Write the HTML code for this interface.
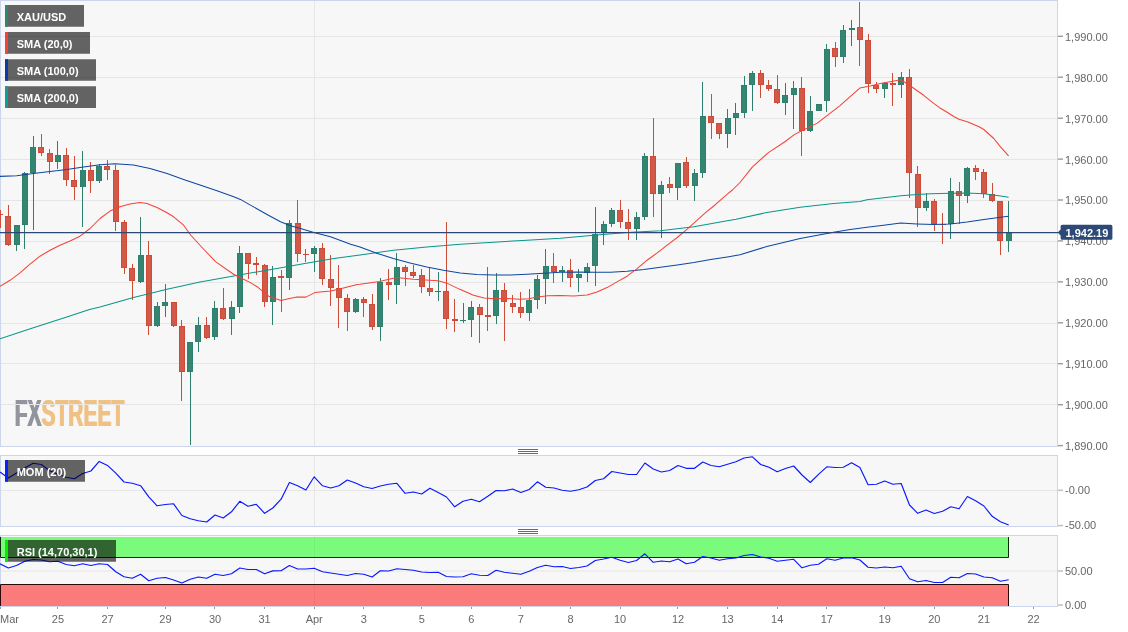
<!DOCTYPE html><html><head><meta charset="utf-8"><title>XAU/USD</title>
<style>html,body{margin:0;padding:0;background:#fff}svg{display:block}text{font-family:"Liberation Sans",Arial,sans-serif}</style></head><body>
<svg width="1128" height="632" viewBox="0 0 1128 632">
<rect width="1128" height="632" fill="#fff"/>
<rect x="0.5" y="0.5" width="1057" height="446" fill="#f7f7f7" stroke="#ccd6eb"/>
<rect x="0.5" y="455.5" width="1057" height="71" fill="#f7f7f7" stroke="#ccd6eb"/>
<rect x="0.5" y="535.5" width="1057" height="71" fill="#f7f7f7" stroke="#ccd6eb"/>
<defs><filter id="thick" x="-5%" y="-5%" width="110%" height="110%"><feOffset in="SourceGraphic" dx="1" result="b"/><feMerge><feMergeNode in="b"/><feMergeNode in="SourceGraphic"/></feMerge></filter></defs>
<text x="14.3" y="426.4" font-size="37" font-weight="bold" textLength="109.5" lengthAdjust="spacingAndGlyphs" filter="url(#thick)"><tspan fill="#92959e">FX</tspan><tspan fill="#f0c184">STREET</tspan></text>
<line x1="1" y1="36.5" x2="1057" y2="36.5" stroke="#e6e6e6"/>
<line x1="1" y1="77.5" x2="1057" y2="77.5" stroke="#e6e6e6"/>
<line x1="1" y1="118.5" x2="1057" y2="118.5" stroke="#e6e6e6"/>
<line x1="1" y1="159.5" x2="1057" y2="159.5" stroke="#e6e6e6"/>
<line x1="1" y1="200.5" x2="1057" y2="200.5" stroke="#e6e6e6"/>
<line x1="1" y1="241.5" x2="1057" y2="241.5" stroke="#e6e6e6"/>
<line x1="1" y1="282.5" x2="1057" y2="282.5" stroke="#e6e6e6"/>
<line x1="1" y1="323.5" x2="1057" y2="323.5" stroke="#e6e6e6"/>
<line x1="1" y1="363.5" x2="1057" y2="363.5" stroke="#e6e6e6"/>
<line x1="1" y1="404.5" x2="1057" y2="404.5" stroke="#e6e6e6"/>
<line x1="1058" y1="36.3" x2="1063" y2="36.3" stroke="#9a9a9a" stroke-width="1.4"/>
<text x="1065" y="41" font-size="11" fill="#666">1,990.00</text>
<line x1="1058" y1="77.2" x2="1063" y2="77.2" stroke="#9a9a9a" stroke-width="1.4"/>
<text x="1065" y="82" font-size="11" fill="#666">1,980.00</text>
<line x1="1058" y1="118.2" x2="1063" y2="118.2" stroke="#9a9a9a" stroke-width="1.4"/>
<text x="1065" y="123" font-size="11" fill="#666">1,970.00</text>
<line x1="1058" y1="159.1" x2="1063" y2="159.1" stroke="#9a9a9a" stroke-width="1.4"/>
<text x="1065" y="164" font-size="11" fill="#666">1,960.00</text>
<line x1="1058" y1="200.0" x2="1063" y2="200.0" stroke="#9a9a9a" stroke-width="1.4"/>
<text x="1065" y="204" font-size="11" fill="#666">1,950.00</text>
<line x1="1058" y1="240.9" x2="1063" y2="240.9" stroke="#9a9a9a" stroke-width="1.4"/>
<text x="1065" y="245" font-size="11" fill="#666">1,940.00</text>
<line x1="1058" y1="281.9" x2="1063" y2="281.9" stroke="#9a9a9a" stroke-width="1.4"/>
<text x="1065" y="286" font-size="11" fill="#666">1,930.00</text>
<line x1="1058" y1="322.8" x2="1063" y2="322.8" stroke="#9a9a9a" stroke-width="1.4"/>
<text x="1065" y="327" font-size="11" fill="#666">1,920.00</text>
<line x1="1058" y1="363.7" x2="1063" y2="363.7" stroke="#9a9a9a" stroke-width="1.4"/>
<text x="1065" y="368" font-size="11" fill="#666">1,910.00</text>
<line x1="1058" y1="404.7" x2="1063" y2="404.7" stroke="#9a9a9a" stroke-width="1.4"/>
<text x="1065" y="409" font-size="11" fill="#666">1,900.00</text>
<line x1="1058" y1="445.6" x2="1063" y2="445.6" stroke="#9a9a9a" stroke-width="1.4"/>
<text x="1065" y="450" font-size="11" fill="#666">1,890.00</text>
<line x1="314.5" y1="1" x2="314.5" y2="446" stroke="#e6e6e6"/>
<line x1="314.5" y1="456" x2="314.5" y2="526" stroke="#e6e6e6"/>
<line x1="314.5" y1="536" x2="314.5" y2="606" stroke="#e6e6e6"/>
<line x1="1" y1="490.5" x2="1057" y2="490.5" stroke="#e6e6e6"/>
<line x1="1" y1="571" x2="1057" y2="571" stroke="#e6e6e6"/>
<line x1="1058" y1="490.3" x2="1063" y2="490.3" stroke="#c4c4c4" stroke-width="1.6"/>
<text x="1065" y="494" font-size="11" fill="#666">-0.00</text>
<line x1="1058" y1="525.6" x2="1063" y2="525.6" stroke="#c4c4c4" stroke-width="1.6"/>
<text x="1065" y="529" font-size="11" fill="#666">-50.00</text>
<line x1="1058" y1="571" x2="1063" y2="571" stroke="#c4c4c4" stroke-width="1.6"/>
<text x="1065" y="575" font-size="11" fill="#666">50.00</text>
<line x1="1058" y1="605" x2="1063" y2="605" stroke="#c4c4c4" stroke-width="1.6"/>
<text x="1065" y="609" font-size="11" fill="#666">0.00</text>
<rect x="0" y="210" width="1" height="18" fill="#cc4c38"/>
<rect x="-3" y="214" width="6" height="1" fill="#cc4c38"/>
<rect x="8" y="205" width="1" height="41" fill="#cc4c38"/>
<rect x="5.5" y="216.5" width="5" height="28" fill="#d25947" stroke="#cc4c38"/>
<rect x="16" y="225" width="1" height="26" fill="#2e806c"/>
<rect x="14.5" y="225.5" width="5" height="19" fill="#348571" stroke="#2e806c"/>
<rect x="24" y="172" width="1" height="77" fill="#2e806c"/>
<rect x="22.5" y="173.5" width="5" height="51" fill="#348571" stroke="#2e806c"/>
<rect x="33" y="136" width="1" height="94" fill="#2e806c"/>
<rect x="30.5" y="147.5" width="5" height="25" fill="#348571" stroke="#2e806c"/>
<rect x="41" y="134" width="1" height="22" fill="#cc4c38"/>
<rect x="38.5" y="147.5" width="5" height="5" fill="#d25947" stroke="#cc4c38"/>
<rect x="49" y="149" width="1" height="25" fill="#cc4c38"/>
<rect x="47.5" y="153.5" width="5" height="8" fill="#d25947" stroke="#cc4c38"/>
<rect x="57" y="141" width="1" height="28" fill="#2e806c"/>
<rect x="55.5" y="155.5" width="5" height="6" fill="#348571" stroke="#2e806c"/>
<rect x="66" y="148" width="1" height="38" fill="#cc4c38"/>
<rect x="63.5" y="155.5" width="5" height="24" fill="#d25947" stroke="#cc4c38"/>
<rect x="74" y="156" width="1" height="44" fill="#cc4c38"/>
<rect x="71.5" y="180.5" width="5" height="6" fill="#d25947" stroke="#cc4c38"/>
<rect x="82" y="151" width="1" height="76" fill="#2e806c"/>
<rect x="80.5" y="170.5" width="5" height="16" fill="#348571" stroke="#2e806c"/>
<rect x="90" y="162" width="1" height="31" fill="#cc4c38"/>
<rect x="88.5" y="170.5" width="5" height="10" fill="#d25947" stroke="#cc4c38"/>
<rect x="99" y="164" width="1" height="19" fill="#2e806c"/>
<rect x="96.5" y="166.5" width="5" height="14" fill="#348571" stroke="#2e806c"/>
<rect x="107" y="160" width="1" height="20" fill="#cc4c38"/>
<rect x="104.5" y="166.5" width="5" height="3" fill="#d25947" stroke="#cc4c38"/>
<rect x="115" y="165" width="1" height="66" fill="#cc4c38"/>
<rect x="113.5" y="170.5" width="5" height="51" fill="#d25947" stroke="#cc4c38"/>
<rect x="124" y="220" width="1" height="54" fill="#cc4c38"/>
<rect x="121.5" y="222.5" width="5" height="45" fill="#d25947" stroke="#cc4c38"/>
<rect x="132" y="264" width="1" height="36" fill="#cc4c38"/>
<rect x="129.5" y="268.5" width="5" height="12" fill="#d25947" stroke="#cc4c38"/>
<rect x="140" y="217" width="1" height="66" fill="#2e806c"/>
<rect x="138.5" y="255.5" width="5" height="26" fill="#348571" stroke="#2e806c"/>
<rect x="148" y="241" width="1" height="94" fill="#cc4c38"/>
<rect x="146.5" y="255.5" width="5" height="70" fill="#d25947" stroke="#cc4c38"/>
<rect x="157" y="302" width="1" height="25" fill="#2e806c"/>
<rect x="154.5" y="306.5" width="5" height="19" fill="#348571" stroke="#2e806c"/>
<rect x="165" y="284" width="1" height="33" fill="#2e806c"/>
<rect x="162.5" y="302.5" width="5" height="3" fill="#348571" stroke="#2e806c"/>
<rect x="173" y="302" width="1" height="25" fill="#cc4c38"/>
<rect x="171.5" y="302.5" width="5" height="23" fill="#d25947" stroke="#cc4c38"/>
<rect x="181" y="320" width="1" height="81" fill="#cc4c38"/>
<rect x="179.5" y="326.5" width="5" height="45" fill="#d25947" stroke="#cc4c38"/>
<rect x="190" y="342" width="1" height="103" fill="#2e806c"/>
<rect x="187.5" y="342.5" width="5" height="29" fill="#348571" stroke="#2e806c"/>
<rect x="198" y="317" width="1" height="35" fill="#2e806c"/>
<rect x="195.5" y="325.5" width="5" height="16" fill="#348571" stroke="#2e806c"/>
<rect x="206" y="317" width="1" height="22" fill="#cc4c38"/>
<rect x="204.5" y="325.5" width="5" height="12" fill="#d25947" stroke="#cc4c38"/>
<rect x="214" y="301" width="1" height="39" fill="#2e806c"/>
<rect x="212.5" y="308.5" width="5" height="28" fill="#348571" stroke="#2e806c"/>
<rect x="223" y="288" width="1" height="32" fill="#cc4c38"/>
<rect x="220.5" y="308.5" width="5" height="10" fill="#d25947" stroke="#cc4c38"/>
<rect x="231" y="301" width="1" height="34" fill="#2e806c"/>
<rect x="229.5" y="307.5" width="5" height="11" fill="#348571" stroke="#2e806c"/>
<rect x="239" y="246" width="1" height="67" fill="#2e806c"/>
<rect x="237.5" y="253.5" width="5" height="53" fill="#348571" stroke="#2e806c"/>
<rect x="248" y="253" width="1" height="26" fill="#cc4c38"/>
<rect x="245.5" y="253.5" width="5" height="10" fill="#d25947" stroke="#cc4c38"/>
<rect x="256" y="257" width="1" height="18" fill="#cc4c38"/>
<rect x="253" y="263" width="6" height="2" fill="#cc4c38"/>
<rect x="264" y="264" width="1" height="43" fill="#cc4c38"/>
<rect x="262.5" y="265.5" width="5" height="36" fill="#d25947" stroke="#cc4c38"/>
<rect x="272" y="266" width="1" height="59" fill="#2e806c"/>
<rect x="270.5" y="277.5" width="5" height="24" fill="#348571" stroke="#2e806c"/>
<rect x="281" y="270" width="1" height="42" fill="#cc4c38"/>
<rect x="278" y="276" width="6" height="2" fill="#cc4c38"/>
<rect x="289" y="220" width="1" height="70" fill="#2e806c"/>
<rect x="286.5" y="223.5" width="5" height="54" fill="#348571" stroke="#2e806c"/>
<rect x="297" y="200" width="1" height="62" fill="#cc4c38"/>
<rect x="295.5" y="223.5" width="5" height="30" fill="#d25947" stroke="#cc4c38"/>
<rect x="305" y="249" width="1" height="13" fill="#cc4c38"/>
<rect x="303" y="254" width="6" height="1" fill="#cc4c38"/>
<rect x="314" y="246" width="1" height="26" fill="#2e806c"/>
<rect x="311.5" y="248.5" width="5" height="5" fill="#348571" stroke="#2e806c"/>
<rect x="322" y="243" width="1" height="42" fill="#cc4c38"/>
<rect x="319.5" y="248.5" width="5" height="30" fill="#d25947" stroke="#cc4c38"/>
<rect x="330" y="255" width="1" height="51" fill="#cc4c38"/>
<rect x="328.5" y="279.5" width="5" height="8" fill="#d25947" stroke="#cc4c38"/>
<rect x="338" y="265" width="1" height="63" fill="#cc4c38"/>
<rect x="336.5" y="288.5" width="5" height="9" fill="#d25947" stroke="#cc4c38"/>
<rect x="347" y="294" width="1" height="37" fill="#cc4c38"/>
<rect x="344.5" y="298.5" width="5" height="13" fill="#d25947" stroke="#cc4c38"/>
<rect x="355" y="298" width="1" height="15" fill="#2e806c"/>
<rect x="353.5" y="299.5" width="5" height="12" fill="#348571" stroke="#2e806c"/>
<rect x="363" y="297" width="1" height="20" fill="#cc4c38"/>
<rect x="361.5" y="299.5" width="5" height="3" fill="#d25947" stroke="#cc4c38"/>
<rect x="372" y="294" width="1" height="36" fill="#cc4c38"/>
<rect x="369.5" y="304.5" width="5" height="22" fill="#d25947" stroke="#cc4c38"/>
<rect x="380" y="278" width="1" height="63" fill="#2e806c"/>
<rect x="377.5" y="282.5" width="5" height="44" fill="#348571" stroke="#2e806c"/>
<rect x="388" y="269" width="1" height="31" fill="#cc4c38"/>
<rect x="386.5" y="282.5" width="5" height="2" fill="#d25947" stroke="#cc4c38"/>
<rect x="396" y="253" width="1" height="51" fill="#2e806c"/>
<rect x="394.5" y="267.5" width="5" height="17" fill="#348571" stroke="#2e806c"/>
<rect x="405" y="265" width="1" height="21" fill="#cc4c38"/>
<rect x="402.5" y="267.5" width="5" height="4" fill="#d25947" stroke="#cc4c38"/>
<rect x="413" y="265" width="1" height="13" fill="#cc4c38"/>
<rect x="410.5" y="272.5" width="5" height="3" fill="#d25947" stroke="#cc4c38"/>
<rect x="421" y="269" width="1" height="24" fill="#cc4c38"/>
<rect x="419.5" y="275.5" width="5" height="11" fill="#d25947" stroke="#cc4c38"/>
<rect x="429" y="267" width="1" height="29" fill="#cc4c38"/>
<rect x="427.5" y="288.5" width="5" height="3" fill="#d25947" stroke="#cc4c38"/>
<rect x="438" y="272" width="1" height="29" fill="#2e806c"/>
<rect x="435" y="291" width="6" height="1" fill="#2e806c"/>
<rect x="446" y="222" width="1" height="107" fill="#cc4c38"/>
<rect x="443.5" y="291.5" width="5" height="27" fill="#d25947" stroke="#cc4c38"/>
<rect x="454" y="299" width="1" height="33" fill="#cc4c38"/>
<rect x="452" y="319" width="6" height="2" fill="#cc4c38"/>
<rect x="463" y="303" width="1" height="20" fill="#2e806c"/>
<rect x="460" y="320" width="6" height="1" fill="#2e806c"/>
<rect x="471" y="301" width="1" height="36" fill="#2e806c"/>
<rect x="468.5" y="307.5" width="5" height="12" fill="#348571" stroke="#2e806c"/>
<rect x="479" y="304" width="1" height="39" fill="#cc4c38"/>
<rect x="477.5" y="307.5" width="5" height="7" fill="#d25947" stroke="#cc4c38"/>
<rect x="487" y="267" width="1" height="64" fill="#cc4c38"/>
<rect x="485" y="315" width="6" height="2" fill="#cc4c38"/>
<rect x="496" y="273" width="1" height="51" fill="#2e806c"/>
<rect x="493.5" y="290.5" width="5" height="25" fill="#348571" stroke="#2e806c"/>
<rect x="504" y="283" width="1" height="58" fill="#cc4c38"/>
<rect x="501.5" y="290.5" width="5" height="11" fill="#d25947" stroke="#cc4c38"/>
<rect x="512" y="295" width="1" height="18" fill="#cc4c38"/>
<rect x="510.5" y="303.5" width="5" height="3" fill="#d25947" stroke="#cc4c38"/>
<rect x="520" y="292" width="1" height="26" fill="#cc4c38"/>
<rect x="518.5" y="307.5" width="5" height="5" fill="#d25947" stroke="#cc4c38"/>
<rect x="529" y="289" width="1" height="32" fill="#2e806c"/>
<rect x="526.5" y="300.5" width="5" height="12" fill="#348571" stroke="#2e806c"/>
<rect x="537" y="275" width="1" height="34" fill="#2e806c"/>
<rect x="534.5" y="279.5" width="5" height="20" fill="#348571" stroke="#2e806c"/>
<rect x="545" y="249" width="1" height="55" fill="#2e806c"/>
<rect x="543.5" y="266.5" width="5" height="12" fill="#348571" stroke="#2e806c"/>
<rect x="553" y="253" width="1" height="30" fill="#cc4c38"/>
<rect x="551.5" y="266.5" width="5" height="5" fill="#d25947" stroke="#cc4c38"/>
<rect x="562" y="266" width="1" height="16" fill="#2e806c"/>
<rect x="559" y="270" width="6" height="2" fill="#2e806c"/>
<rect x="570" y="259" width="1" height="28" fill="#cc4c38"/>
<rect x="567.5" y="270.5" width="5" height="7" fill="#d25947" stroke="#cc4c38"/>
<rect x="578" y="269" width="1" height="23" fill="#2e806c"/>
<rect x="576.5" y="274.5" width="5" height="3" fill="#348571" stroke="#2e806c"/>
<rect x="587" y="263" width="1" height="19" fill="#2e806c"/>
<rect x="584.5" y="267.5" width="5" height="5" fill="#348571" stroke="#2e806c"/>
<rect x="595" y="207" width="1" height="79" fill="#2e806c"/>
<rect x="592.5" y="234.5" width="5" height="31" fill="#348571" stroke="#2e806c"/>
<rect x="603" y="221" width="1" height="24" fill="#2e806c"/>
<rect x="601.5" y="224.5" width="5" height="8" fill="#348571" stroke="#2e806c"/>
<rect x="611" y="208" width="1" height="19" fill="#2e806c"/>
<rect x="609.5" y="210.5" width="5" height="13" fill="#348571" stroke="#2e806c"/>
<rect x="620" y="200" width="1" height="28" fill="#cc4c38"/>
<rect x="617.5" y="210.5" width="5" height="11" fill="#d25947" stroke="#cc4c38"/>
<rect x="628" y="209" width="1" height="31" fill="#cc4c38"/>
<rect x="625.5" y="222.5" width="5" height="6" fill="#d25947" stroke="#cc4c38"/>
<rect x="636" y="212" width="1" height="28" fill="#2e806c"/>
<rect x="634.5" y="217.5" width="5" height="11" fill="#348571" stroke="#2e806c"/>
<rect x="644" y="153" width="1" height="67" fill="#2e806c"/>
<rect x="642.5" y="156.5" width="5" height="60" fill="#348571" stroke="#2e806c"/>
<rect x="653" y="118" width="1" height="99" fill="#cc4c38"/>
<rect x="650.5" y="156.5" width="5" height="37" fill="#d25947" stroke="#cc4c38"/>
<rect x="661" y="181" width="1" height="57" fill="#2e806c"/>
<rect x="658.5" y="185.5" width="5" height="8" fill="#348571" stroke="#2e806c"/>
<rect x="669" y="177" width="1" height="16" fill="#cc4c38"/>
<rect x="667.5" y="184.5" width="5" height="3" fill="#d25947" stroke="#cc4c38"/>
<rect x="677" y="163" width="1" height="37" fill="#2e806c"/>
<rect x="675.5" y="163.5" width="5" height="24" fill="#348571" stroke="#2e806c"/>
<rect x="686" y="157" width="1" height="31" fill="#cc4c38"/>
<rect x="683.5" y="162.5" width="5" height="23" fill="#d25947" stroke="#cc4c38"/>
<rect x="694" y="169" width="1" height="32" fill="#2e806c"/>
<rect x="692.5" y="173.5" width="5" height="12" fill="#348571" stroke="#2e806c"/>
<rect x="702" y="82" width="1" height="96" fill="#2e806c"/>
<rect x="700.5" y="116.5" width="5" height="56" fill="#348571" stroke="#2e806c"/>
<rect x="711" y="94" width="1" height="45" fill="#cc4c38"/>
<rect x="708.5" y="116.5" width="5" height="6" fill="#d25947" stroke="#cc4c38"/>
<rect x="719" y="123" width="1" height="16" fill="#cc4c38"/>
<rect x="716.5" y="123.5" width="5" height="10" fill="#d25947" stroke="#cc4c38"/>
<rect x="727" y="109" width="1" height="39" fill="#2e806c"/>
<rect x="725.5" y="118.5" width="5" height="15" fill="#348571" stroke="#2e806c"/>
<rect x="735" y="103" width="1" height="32" fill="#2e806c"/>
<rect x="733.5" y="113.5" width="5" height="4" fill="#348571" stroke="#2e806c"/>
<rect x="744" y="76" width="1" height="42" fill="#2e806c"/>
<rect x="741.5" y="85.5" width="5" height="27" fill="#348571" stroke="#2e806c"/>
<rect x="752" y="71" width="1" height="40" fill="#2e806c"/>
<rect x="749.5" y="73.5" width="5" height="11" fill="#348571" stroke="#2e806c"/>
<rect x="760" y="70" width="1" height="28" fill="#cc4c38"/>
<rect x="758.5" y="73.5" width="5" height="11" fill="#d25947" stroke="#cc4c38"/>
<rect x="768" y="80" width="1" height="11" fill="#cc4c38"/>
<rect x="766.5" y="85.5" width="5" height="3" fill="#d25947" stroke="#cc4c38"/>
<rect x="777" y="75" width="1" height="29" fill="#cc4c38"/>
<rect x="774.5" y="89.5" width="5" height="13" fill="#d25947" stroke="#cc4c38"/>
<rect x="785" y="83" width="1" height="32" fill="#2e806c"/>
<rect x="782.5" y="95.5" width="5" height="7" fill="#348571" stroke="#2e806c"/>
<rect x="793" y="81" width="1" height="48" fill="#2e806c"/>
<rect x="791.5" y="88.5" width="5" height="6" fill="#348571" stroke="#2e806c"/>
<rect x="801" y="77" width="1" height="79" fill="#cc4c38"/>
<rect x="799.5" y="88.5" width="5" height="42" fill="#d25947" stroke="#cc4c38"/>
<rect x="810" y="96" width="1" height="36" fill="#2e806c"/>
<rect x="807.5" y="111.5" width="5" height="19" fill="#348571" stroke="#2e806c"/>
<rect x="818" y="104" width="1" height="7" fill="#2e806c"/>
<rect x="816.5" y="104.5" width="5" height="6" fill="#348571" stroke="#2e806c"/>
<rect x="826" y="44" width="1" height="68" fill="#2e806c"/>
<rect x="824.5" y="49.5" width="5" height="51" fill="#348571" stroke="#2e806c"/>
<rect x="835" y="42" width="1" height="25" fill="#cc4c38"/>
<rect x="832.5" y="48.5" width="5" height="8" fill="#d25947" stroke="#cc4c38"/>
<rect x="843" y="25" width="1" height="38" fill="#2e806c"/>
<rect x="840.5" y="30.5" width="5" height="26" fill="#348571" stroke="#2e806c"/>
<rect x="851" y="20" width="1" height="26" fill="#2e806c"/>
<rect x="849" y="28" width="6" height="2" fill="#2e806c"/>
<rect x="859" y="2" width="1" height="64" fill="#cc4c38"/>
<rect x="857.5" y="27.5" width="5" height="12" fill="#d25947" stroke="#cc4c38"/>
<rect x="868" y="34" width="1" height="59" fill="#cc4c38"/>
<rect x="865.5" y="40.5" width="5" height="43" fill="#d25947" stroke="#cc4c38"/>
<rect x="876" y="82" width="1" height="11" fill="#cc4c38"/>
<rect x="873.5" y="85.5" width="5" height="3" fill="#d25947" stroke="#cc4c38"/>
<rect x="884" y="82" width="1" height="16" fill="#2e806c"/>
<rect x="882.5" y="83.5" width="5" height="5" fill="#348571" stroke="#2e806c"/>
<rect x="892" y="73" width="1" height="33" fill="#cc4c38"/>
<rect x="890" y="83" width="6" height="2" fill="#cc4c38"/>
<rect x="901" y="72" width="1" height="26" fill="#2e806c"/>
<rect x="898.5" y="77.5" width="5" height="7" fill="#348571" stroke="#2e806c"/>
<rect x="909" y="69" width="1" height="129" fill="#cc4c38"/>
<rect x="906.5" y="77.5" width="5" height="95" fill="#d25947" stroke="#cc4c38"/>
<rect x="917" y="166" width="1" height="61" fill="#cc4c38"/>
<rect x="915.5" y="174.5" width="5" height="33" fill="#d25947" stroke="#cc4c38"/>
<rect x="926" y="193" width="1" height="18" fill="#2e806c"/>
<rect x="923.5" y="201.5" width="5" height="6" fill="#348571" stroke="#2e806c"/>
<rect x="934" y="199" width="1" height="32" fill="#cc4c38"/>
<rect x="931.5" y="201.5" width="5" height="22" fill="#d25947" stroke="#cc4c38"/>
<rect x="942" y="213" width="1" height="31" fill="#cc4c38"/>
<rect x="940" y="224" width="6" height="1" fill="#cc4c38"/>
<rect x="950" y="178" width="1" height="61" fill="#2e806c"/>
<rect x="948.5" y="191.5" width="5" height="32" fill="#348571" stroke="#2e806c"/>
<rect x="959" y="182" width="1" height="42" fill="#cc4c38"/>
<rect x="956.5" y="191.5" width="5" height="4" fill="#d25947" stroke="#cc4c38"/>
<rect x="967" y="167" width="1" height="36" fill="#2e806c"/>
<rect x="964.5" y="168.5" width="5" height="27" fill="#348571" stroke="#2e806c"/>
<rect x="975" y="165" width="1" height="15" fill="#cc4c38"/>
<rect x="973.5" y="168.5" width="5" height="3" fill="#d25947" stroke="#cc4c38"/>
<rect x="983" y="169" width="1" height="29" fill="#cc4c38"/>
<rect x="981.5" y="172.5" width="5" height="21" fill="#d25947" stroke="#cc4c38"/>
<rect x="992" y="183" width="1" height="19" fill="#cc4c38"/>
<rect x="989.5" y="194.5" width="5" height="6" fill="#d25947" stroke="#cc4c38"/>
<rect x="1000" y="201" width="1" height="54" fill="#cc4c38"/>
<rect x="997.5" y="201.5" width="5" height="39" fill="#d25947" stroke="#cc4c38"/>
<rect x="1008" y="201" width="1" height="51" fill="#2e806c"/>
<rect x="1006.5" y="233.5" width="5" height="7" fill="#348571" stroke="#2e806c"/>
<polyline points="0.0,338.7 33.4,327.7 66.8,317.0 88.7,309.8 100.0,307.0 133.5,297.6 167.0,289.3 200.0,281.9 233.7,275.9 267.0,270.2 300.5,264.2 333.9,258.5 360.0,255.0 393.4,250.2 426.8,246.9 460.2,244.2 493.6,242.2 527.0,240.2 560.3,238.2 593.7,235.2 627.1,232.5 660.5,230.8 693.9,226.8 727.3,220.8 736.0,219.2 766.8,212.5 800.2,207.2 833.6,203.6 860.0,201.4 867.0,199.8 900.8,195.7 917.0,194.6 931.0,193.8 950.4,193.3 966.4,193.1 984.0,193.8 1000.5,195.9 1008.6,197.3" fill="none" stroke="#0a9688" stroke-width="1.05" stroke-linejoin="round"/>
<polyline points="0.0,176.4 16.7,175.7 33.4,173.4 50.0,171.4 66.8,169.4 83.5,167.0 100.0,164.7 115.0,163.7 133.5,165.0 150.0,168.4 167.0,173.4 183.6,179.4 200.0,185.1 217.0,190.8 233.7,196.8 240.4,199.4 250.4,205.1 267.0,214.5 280.5,221.8 290.5,225.8 300.5,228.5 313.9,232.5 330.5,236.8 350.6,244.2 360.0,246.9 376.7,253.2 393.4,258.5 410.0,262.9 426.8,266.9 443.5,270.2 460.2,272.9 476.9,274.6 493.6,274.9 510.3,274.9 527.0,274.2 543.6,273.2 560.3,272.2 577.0,271.9 593.7,272.2 610.4,272.2 627.1,271.2 643.8,269.6 660.5,267.2 677.2,264.9 693.9,262.6 710.6,259.6 727.3,256.9 740.0,254.7 766.8,246.5 800.2,238.5 833.6,232.3 850.3,229.5 867.0,227.3 883.6,225.3 900.8,223.1 917.0,224.0 933.7,224.6 950.4,224.0 967.1,222.0 984.0,219.5 1000.5,217.3 1008.6,216.3" fill="none" stroke="#0d47a1" stroke-width="1.05" stroke-linejoin="round"/>
<polyline points="0.0,286.3 10.0,280.3 20.0,272.9 30.0,264.2 40.0,256.2 50.0,250.2 60.0,245.2 70.0,240.9 80.0,236.2 90.0,228.5 100.0,218.5 110.0,211.1 120.0,206.8 130.0,204.1 140.0,202.5 147.0,203.5 157.0,207.5 167.0,212.8 173.6,216.8 183.6,225.2 190.6,235.0 203.0,248.5 215.5,261.6 233.2,274.0 238.5,276.7 250.9,282.9 258.0,287.3 268.7,296.2 275.7,298.8 281.1,300.6 288.2,298.8 297.0,297.1 305.9,297.1 314.8,292.6 330.7,290.9 339.6,289.1 357.3,284.6 360.0,284.3 379.5,281.5 396.5,277.6 413.2,279.3 438.0,280.7 446.3,282.9 459.3,289.1 473.5,295.3 484.1,297.9 494.8,298.8 507.2,298.5 519.6,299.2 528.4,298.8 537.3,297.1 547.9,295.8 560.0,295.4 573.7,296.0 587.0,295.0 597.0,291.9 607.0,287.6 617.0,281.9 627.1,276.2 637.1,268.6 647.1,260.2 657.2,252.9 667.2,245.2 677.2,237.5 687.2,229.2 697.2,220.2 707.2,211.1 712.6,207.0 717.3,202.8 727.3,194.1 732.4,190.0 740.0,182.5 752.5,166.8 768.4,152.6 784.5,142.0 794.3,134.6 801.7,130.7 817.3,123.1 840.0,105.7 859.8,88.1 870.3,86.1 880.3,83.4 890.3,81.7 900.6,79.8 905.3,82.5 913.7,88.3 923.7,95.3 933.7,103.4 939.6,107.7 946.7,112.0 953.8,116.5 959.0,119.3 968.0,121.9 980.0,127.2 983.8,129.5 993.8,138.5 1000.5,146.8 1008.6,155.8" fill="none" stroke="#f44336" stroke-width="1.05" stroke-linejoin="round"/>
<line x1="0" y1="232.6" x2="1058" y2="232.6" stroke="#2c4a75" stroke-width="1.3"/>
<path d="M1057.7 232.5 L1060.6 229.6 L1060.6 226.3 Q1060.6 224.8 1062.1 224.8 L1110.9 224.8 Q1112.4 224.8 1112.4 226.3 L1112.4 238.2 Q1112.4 239.7 1110.9 239.7 L1062.1 239.7 Q1060.6 239.7 1060.6 238.2 L1060.6 235.4 Z" fill="#2c4a75"/>
<text x="1065.5" y="237" font-size="11" font-weight="bold" fill="#fff">1,942.19</text>
<rect x="5" y="5" width="79" height="21.75" fill="#000" fill-opacity="0.6"/>
<rect x="5" y="5" width="3" height="21.75" fill="#2f8572"/>
<text x="16.7" y="20.9" font-size="11" font-weight="bold" fill="#fff">XAU/USD</text>
<rect x="5" y="32" width="85" height="21.75" fill="#000" fill-opacity="0.6"/>
<rect x="5" y="32" width="3" height="21.75" fill="#f44336"/>
<text x="16.7" y="47.9" font-size="11" font-weight="bold" fill="#fff">SMA (20,0)</text>
<rect x="5" y="59.25" width="91" height="21.5" fill="#000" fill-opacity="0.6"/>
<rect x="5" y="59.25" width="3" height="21.5" fill="#0d3aa9"/>
<text x="16.7" y="75.0" font-size="11" font-weight="bold" fill="#fff">SMA (100,0)</text>
<rect x="5" y="86.25" width="91" height="21.75" fill="#000" fill-opacity="0.6"/>
<rect x="5" y="86.25" width="3" height="21.75" fill="#0f9d8f"/>
<text x="16.7" y="102.1" font-size="11" font-weight="bold" fill="#fff">SMA (200,0)</text>
<polyline points="0.0,472.0 8.3,478.0 16.5,473.0 24.8,468.0 33.1,463.2 41.3,464.5 49.6,470.6 57.9,474.2 66.1,477.3 74.4,478.7 82.7,473.5 90.9,471.0 99.2,461.4 107.5,465.4 115.8,473.2 124.0,482.0 132.3,483.3 140.6,485.7 148.8,496.8 157.1,505.8 165.4,504.5 173.6,503.8 181.9,515.5 190.2,518.8 198.4,520.8 206.7,522.0 215.0,515.0 223.2,518.0 231.5,511.8 239.8,501.3 248.0,506.3 256.3,504.3 264.6,513.3 272.8,508.0 281.1,499.2 289.4,482.5 297.6,485.8 305.9,490.0 314.2,476.8 322.5,485.8 330.7,488.0 339.0,485.8 347.3,480.0 355.5,483.0 363.8,486.8 372.1,488.5 380.3,486.0 388.6,484.3 396.9,483.3 405.1,493.3 413.4,492.0 421.7,494.0 429.9,488.3 438.2,492.5 446.5,497.0 454.7,506.8 463.0,501.3 471.3,499.3 479.5,501.8 487.8,496.3 496.1,490.5 504.3,490.8 512.6,489.0 520.9,492.5 529.2,489.5 537.4,481.8 545.7,487.3 554.0,488.0 562.2,490.3 570.5,491.3 578.8,489.8 587.0,487.0 595.3,480.5 603.6,478.8 611.8,471.5 620.1,473.0 628.4,474.5 636.6,474.5 644.9,463.0 653.2,469.0 661.4,472.0 669.7,470.5 678.0,465.5 686.2,468.3 694.5,468.3 702.8,462.0 711.0,465.5 719.3,466.8 727.6,464.3 735.9,461.8 744.1,458.0 752.4,456.8 760.7,464.5 768.9,467.3 777.2,471.8 785.5,468.5 793.7,466.0 802.0,475.0 810.3,482.5 818.5,474.4 826.8,466.8 835.1,467.5 843.3,467.3 851.6,462.8 859.9,467.5 868.1,484.8 876.4,484.3 884.7,481.0 892.9,484.3 901.2,483.5 909.5,505.0 917.7,513.3 926.0,510.0 934.3,513.5 942.6,511.3 950.8,506.8 959.1,508.8 967.4,496.5 975.6,500.8 983.9,506.0 992.2,516.3 1000.4,521.8 1008.7,525.0" fill="none" stroke="#0818ff" stroke-width="1.15" stroke-linejoin="round"/>
<rect x="5" y="460" width="80" height="21.75" fill="#000" fill-opacity="0.6"/>
<rect x="5" y="460" width="3" height="21.75" fill="#0a1fff"/>
<text x="16.7" y="475.9" font-size="11" font-weight="bold" fill="#fff">MOM (20)</text>
<rect x="1" y="537" width="1008" height="20.5" fill="#00ff00" fill-opacity="0.5"/>
<rect x="1" y="584.5" width="1008" height="21.5" fill="#ff0000" fill-opacity="0.5"/>
<path d="M0.5 537 V557.5 H1008.5 V537" fill="none" stroke="#0a2a0a" stroke-width="1"/>
<path d="M0.5 606 V584.5 H1008.5 V606" fill="none" stroke="#2a0a0a" stroke-width="1"/>
<polyline points="0.0,563.8 8.3,568.0 16.5,565.5 24.8,561.3 33.1,559.5 41.3,560.0 49.6,561.8 57.9,561.3 66.1,564.5 74.4,565.8 82.7,563.8 90.9,565.5 99.2,563.8 107.5,564.5 115.8,571.8 124.0,576.8 132.3,578.3 140.6,574.3 148.8,580.8 157.1,578.3 165.4,577.5 173.6,580.0 181.9,583.0 190.2,579.3 198.4,577.0 206.7,578.3 215.0,574.3 223.2,575.5 231.5,573.8 239.8,568.0 248.0,569.5 256.3,569.5 264.6,573.8 272.8,570.9 281.1,570.8 289.4,565.5 297.6,569.0 305.9,569.0 314.2,568.3 322.5,571.8 330.7,573.0 339.0,574.3 347.3,575.5 355.5,573.5 363.8,574.3 372.1,577.0 380.3,570.8 388.6,571.0 396.9,568.8 405.1,569.5 413.4,570.3 421.7,572.0 429.9,572.5 438.2,572.3 446.5,576.5 454.7,577.0 463.0,576.8 471.3,573.8 479.5,575.3 487.8,575.5 496.1,570.3 504.3,572.3 512.6,573.3 520.9,574.3 529.2,571.3 537.4,567.5 545.7,565.3 554.0,566.8 562.2,566.5 570.5,568.5 578.8,567.5 587.0,566.0 595.3,560.5 603.6,559.0 611.8,557.3 620.1,560.3 628.4,562.5 636.6,560.5 644.9,553.8 653.2,562.3 661.4,561.0 669.7,561.8 678.0,559.0 686.2,563.8 694.5,562.3 702.8,556.5 711.0,558.0 719.3,560.3 727.6,558.8 735.9,558.0 744.1,555.5 752.4,554.5 760.7,557.0 768.9,558.3 777.2,561.3 785.5,560.3 793.7,559.3 802.0,567.8 810.3,565.3 818.5,564.3 826.8,558.8 835.1,560.3 843.3,558.0 851.6,557.8 859.9,560.0 868.1,567.3 876.4,568.0 884.7,567.0 892.9,567.8 901.2,566.3 909.5,578.8 917.7,581.8 926.0,580.5 934.3,582.5 942.6,582.5 950.8,577.3 959.1,577.8 967.4,573.5 975.6,574.0 983.9,577.0 992.2,577.8 1000.4,581.3 1008.7,579.8" fill="none" stroke="#0818ff" stroke-width="1.15" stroke-linejoin="round"/>
<rect x="5" y="540" width="111" height="21.75" fill="#000" fill-opacity="0.6"/>
<rect x="5" y="540" width="3" height="21.75" fill="#00f000"/>
<text x="16.7" y="555.9" font-size="11" font-weight="bold" fill="#fff">RSI (14,70,30,1)</text>
<rect x="518" y="449" width="20" height="1" fill="#6e6866"/>
<rect x="518" y="451" width="20" height="1" fill="#6e6866"/>
<rect x="518" y="453" width="20" height="1" fill="#6e6866"/>
<rect x="518" y="529" width="20" height="1" fill="#6e6866"/>
<rect x="518" y="531" width="20" height="1" fill="#6e6866"/>
<rect x="518" y="533" width="20" height="1" fill="#6e6866"/>
<line x1="0.5" y1="607" x2="0.5" y2="609" stroke="#999"/>
<text x="0" y="623" font-size="11" fill="#666">Mar</text>
<line x1="57.5" y1="607" x2="57.5" y2="609" stroke="#999"/>
<text x="57.9" y="623" font-size="11" fill="#666" text-anchor="middle">25</text>
<line x1="107.5" y1="607" x2="107.5" y2="609" stroke="#999"/>
<text x="107.5" y="623" font-size="11" fill="#666" text-anchor="middle">27</text>
<line x1="165.5" y1="607" x2="165.5" y2="609" stroke="#999"/>
<text x="165.4" y="623" font-size="11" fill="#666" text-anchor="middle">29</text>
<line x1="214.5" y1="607" x2="214.5" y2="609" stroke="#999"/>
<text x="215.0" y="623" font-size="11" fill="#666" text-anchor="middle">30</text>
<line x1="264.5" y1="607" x2="264.5" y2="609" stroke="#999"/>
<text x="264.6" y="623" font-size="11" fill="#666" text-anchor="middle">31</text>
<line x1="314.5" y1="607" x2="314.5" y2="609" stroke="#999"/>
<text x="314.2" y="623" font-size="11" fill="#666" text-anchor="middle">Apr</text>
<line x1="363.5" y1="607" x2="363.5" y2="609" stroke="#999"/>
<text x="363.8" y="623" font-size="11" fill="#666" text-anchor="middle">3</text>
<line x1="421.5" y1="607" x2="421.5" y2="609" stroke="#999"/>
<text x="421.7" y="623" font-size="11" fill="#666" text-anchor="middle">5</text>
<line x1="471.5" y1="607" x2="471.5" y2="609" stroke="#999"/>
<text x="471.3" y="623" font-size="11" fill="#666" text-anchor="middle">6</text>
<line x1="520.5" y1="607" x2="520.5" y2="609" stroke="#999"/>
<text x="520.9" y="623" font-size="11" fill="#666" text-anchor="middle">7</text>
<line x1="570.5" y1="607" x2="570.5" y2="609" stroke="#999"/>
<text x="570.5" y="623" font-size="11" fill="#666" text-anchor="middle">8</text>
<line x1="620.5" y1="607" x2="620.5" y2="609" stroke="#999"/>
<text x="620.1" y="623" font-size="11" fill="#666" text-anchor="middle">10</text>
<line x1="677.5" y1="607" x2="677.5" y2="609" stroke="#999"/>
<text x="678.0" y="623" font-size="11" fill="#666" text-anchor="middle">12</text>
<line x1="727.5" y1="607" x2="727.5" y2="609" stroke="#999"/>
<text x="727.6" y="623" font-size="11" fill="#666" text-anchor="middle">13</text>
<line x1="777.5" y1="607" x2="777.5" y2="609" stroke="#999"/>
<text x="777.2" y="623" font-size="11" fill="#666" text-anchor="middle">14</text>
<line x1="826.5" y1="607" x2="826.5" y2="609" stroke="#999"/>
<text x="826.8" y="623" font-size="11" fill="#666" text-anchor="middle">17</text>
<line x1="884.5" y1="607" x2="884.5" y2="609" stroke="#999"/>
<text x="884.7" y="623" font-size="11" fill="#666" text-anchor="middle">19</text>
<line x1="934.5" y1="607" x2="934.5" y2="609" stroke="#999"/>
<text x="934.3" y="623" font-size="11" fill="#666" text-anchor="middle">20</text>
<line x1="983.5" y1="607" x2="983.5" y2="609" stroke="#999"/>
<text x="983.9" y="623" font-size="11" fill="#666" text-anchor="middle">21</text>
<line x1="1033.5" y1="607" x2="1033.5" y2="609" stroke="#999"/>
<text x="1033.5" y="623" font-size="11" fill="#666" text-anchor="middle">22</text>
</svg></body></html>
